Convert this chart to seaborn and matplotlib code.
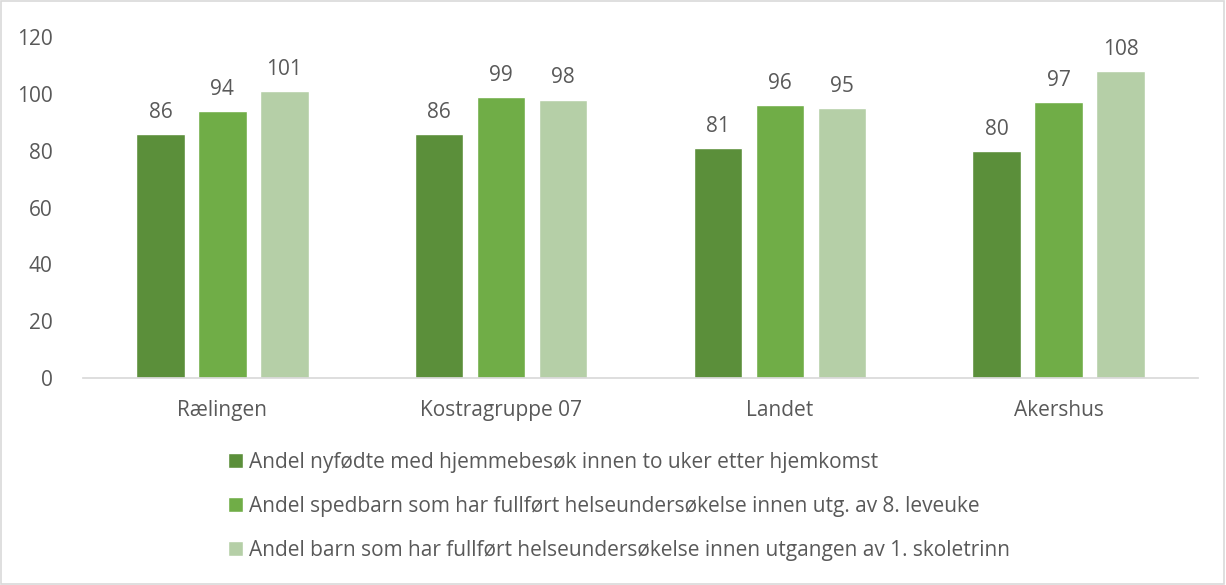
import numpy as np
import pandas as pd
import matplotlib
matplotlib.use("Agg")
import matplotlib.pyplot as plt
import seaborn as sns
from matplotlib.patches import Rectangle

# data
regions = ["Rælingen", "Kostragruppe 07", "Landet", "Akershus"]
series = [
    "Andel nyfødte med hjemmebesøk innen to uker etter hjemkomst",
    "Andel spedbarn som har fullført helseundersøkelse innen utg. av 8. leveuke",
    "Andel barn som har fullført helseundersøkelse innen utgangen av 1. skoletrinn",
]
vals_nyfodte = [86, 86, 81, 80]
vals_spedbarn = [94, 99, 96, 97]
vals_skole = [101, 98, 95, 108]
colors = ["#5B8F3A", "#70AD47", "#B5CFA7"]
y_ticks = [0, 20, 40, 60, 80, 100, 120]

df = pd.DataFrame({
    "region": regions * 3,
    "serie": [series[0]] * 4 + [series[1]] * 4 + [series[2]] * 4,
    "verdi": vals_nyfodte + vals_spedbarn + vals_skole,
})

sns.set_theme(style="white")
plt.rcParams["font.family"] = ["Open Sans", "DejaVu Sans"]
txt = "#595959"
fs = 15

fig = plt.figure(figsize=(12.26, 5.85), dpi=100)
ax = fig.add_axes([83 / 1226, 1 - 378 / 585, (1198 - 83) / 1226, (378 - 37) / 585])

sns.barplot(data=df, x="region", y="verdi", hue="serie", palette=colors,
            width=0.667, gap=0.22, ax=ax, saturation=1, legend=True)

for cont in ax.containers:
    ax.bar_label(cont, padding=8, fontsize=fs, color=txt)

ax.set_ylim(0, 120)
ax.set_xlim(-0.5, 3.5)
ax.set_yticks(y_ticks)
ax.set_xlabel("")
ax.set_ylabel("")
ax.tick_params(axis="y", length=0, labelsize=fs, labelcolor=txt, pad=22)
ax.tick_params(axis="x", which="major", length=0, labelsize=fs, labelcolor=txt, pad=16)
ax.set_xticks([-0.5, 0.5, 1.5, 2.5, 3.5], minor=True)
ax.tick_params(axis="x", which="minor", length=6, color="#D9D9D9", width=1)
for s in ["top", "right", "left"]:
    ax.spines[s].set_visible(False)
ax.spines["bottom"].set_color("#D9D9D9")

handles, labels = ax.get_legend_handles_labels()
ax.get_legend().remove()
fig.legend(handles, labels, loc="upper left", bbox_to_anchor=(228 / 1226, 1 - 452 / 585),
           frameon=False, fontsize=fs, labelcolor=txt, handlelength=0.7, handleheight=0.7,
           handletextpad=0.3, labelspacing=1.1, borderaxespad=0, borderpad=0)

fig.patches.append(Rectangle((0.001, 0.002), 0.997, 0.996, transform=fig.transFigure,
                             fill=False, edgecolor="#D9D9D9", linewidth=1.2))

fig.savefig("out.png", dpi=100)
